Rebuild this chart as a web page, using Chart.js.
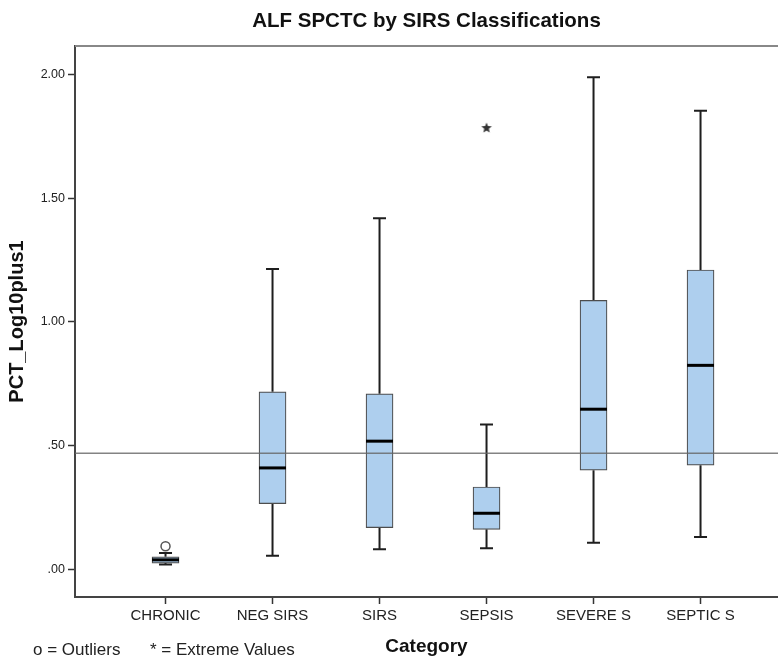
<!DOCTYPE html>
<html>
<head>
<meta charset="utf-8">
<script src="https://cdn.jsdelivr.net/npm/chart.js@4.4.1/dist/chart.umd.min.js"></script>
<style>
  body { margin: 0; background: #fff; }
</style>
</head>
<body>
<canvas id="myChart" width="778" height="658"></canvas>
<script>
const categories = ["CHRONIC", "NEG SIRS", "SIRS", "SEPSIS", "SEVERE S", "SEPTIC S"];
const whiskerLow = [0.021, 0.056, 0.083, 0.087, 0.109, 0.132];
const q1 = [0.027, 0.267, 0.170, 0.163, 0.402, 0.422];
const median = [0.040, 0.411, 0.519, 0.228, 0.648, 0.825];
const q3 = [0.052, 0.718, 0.710, 0.334, 1.087, 1.210];
const whiskerHigh = [0.068, 1.214, 1.419, 0.586, 1.988, 1.853];
const outliers = [[0.095], [], [], [], [], []];
const extremes = [[], [], [], [1.783], [], []];
const yTicks = [0, 0.5, 1, 1.5, 2];
const refLine = 0.47;

const font = "'Liberation Sans', Arial, sans-serif";

// small 5-point star used for extreme values
const starImg = document.createElement("canvas");
starImg.width = 12;
starImg.height = 12;
const sctx = starImg.getContext("2d");
sctx.beginPath();
for (let k = 0; k < 10; k++) {
  const r = k % 2 === 0 ? 5.5 : 2.4;
  const a = -Math.PI / 2 + k * Math.PI / 5;
  sctx.lineTo(6 + r * Math.cos(a), 6 + r * Math.sin(a));
}
sctx.closePath();
sctx.fillStyle = "#333";
sctx.fill();

const boxParts = {
  id: "boxParts",
  beforeDatasetsDraw(chart) {
    const { ctx, scales: { x, y } } = chart;
    ctx.save();
    ctx.strokeStyle = "#1e1e1e";
    ctx.lineWidth = 2;
    categories.forEach((c, i) => {
      const px = x.getPixelForValue(i);
      ctx.beginPath();
      ctx.moveTo(px, y.getPixelForValue(q3[i]));
      ctx.lineTo(px, y.getPixelForValue(whiskerHigh[i]));
      ctx.moveTo(px, y.getPixelForValue(q1[i]));
      ctx.lineTo(px, y.getPixelForValue(whiskerLow[i]));
      [whiskerHigh[i], whiskerLow[i]].forEach((v) => {
        const py = y.getPixelForValue(v);
        ctx.moveTo(px - 6.5, py);
        ctx.lineTo(px + 6.5, py);
      });
      ctx.stroke();
    });
    ctx.restore();
  },
  afterDatasetsDraw(chart) {
    const { ctx, chartArea: a, scales: { x, y } } = chart;
    ctx.save();
    // medians
    ctx.strokeStyle = "#000";
    ctx.lineWidth = 3;
    categories.forEach((c, i) => {
      const px = x.getPixelForValue(i);
      const py = y.getPixelForValue(median[i]);
      ctx.beginPath();
      ctx.moveTo(px - 13.5, py);
      ctx.lineTo(px + 13.5, py);
      ctx.stroke();
    });
    // reference line
    const ry = y.getPixelForValue(refLine);
    ctx.strokeStyle = "rgba(100,100,100,0.8)";
    ctx.lineWidth = 1.5;
    ctx.beginPath();
    ctx.moveTo(a.left, ry);
    ctx.lineTo(a.right, ry);
    ctx.stroke();
    // top frame
    ctx.strokeStyle = "#888";
    ctx.lineWidth = 2;
    ctx.beginPath();
    ctx.moveTo(a.left, a.top);
    ctx.lineTo(a.right, a.top);
    ctx.stroke();
    ctx.restore();
  },
  afterDraw(chart) {
    const { ctx } = chart;
    ctx.save();
    ctx.fillStyle = "#222";
    ctx.font = "17px " + font;
    ctx.textBaseline = "middle";
    ctx.fillText("o = Outliers", 33, 650);
    ctx.fillText("* = Extreme Values", 150, 650);
    ctx.restore();
  }
};

const myChart = new Chart(document.getElementById("myChart"), {
  type: "bar",
  plugins: [boxParts],
  data: {
    datasets: [
      {
        type: "bar",
        data: categories.map((c, i) => ({ x: i, y: [q1[i], q3[i]] })),
        backgroundColor: "#aecfee",
        borderColor: "#4d4d4d",
        borderWidth: 1.2,
        borderSkipped: false,
        barThickness: 27,
      },
      {
        type: "scatter",
        data: outliers.flatMap((list, i) => list.map((v) => ({ x: i, y: v }))),
        pointStyle: "circle",
        radius: 4.5,
        backgroundColor: "#fff",
        borderColor: "#555",
        borderWidth: 1.5,
      },
      {
        type: "scatter",
        data: extremes.flatMap((list, i) => list.map((v) => ({ x: i, y: v }))),
        pointStyle: starImg,
      },
    ],
  },
  options: {
    responsive: false,
    animation: false,
    events: [],
    layout: { padding: 0, autoPadding: false },
    plugins: {
      legend: { display: false },
      tooltip: { enabled: false },
      title: {
        display: true,
        fullSize: false,
        text: "ALF SPCTC by SIRS Classifications",
        color: "#111",
        font: { family: font, size: 20.5, weight: "bold" },
        padding: { top: 9, bottom: 12.4 },
      },
    },
    scales: {
      x: {
        type: "linear",
        offset: false,
        min: -0.846,
        max: 5.724,
        afterBuildTicks: (s) => { s.ticks = categories.map((c, i) => ({ value: i })); },
        afterFit: (s) => { s.height = 61; s.paddingLeft = 0; s.paddingRight = 0; },
        ticks: {
          callback: (v) => categories[v],
          autoSkip: false,
          maxRotation: 0,
          padding: 3,
          color: "#222",
          font: { family: font, size: 15 },
        },
        grid: { offset: false, drawOnChartArea: false, tickLength: 7, tickColor: "#333", tickWidth: 1.5 },
        border: { color: "#444", width: 2 },
        title: {
          display: true,
          text: "Category",
          color: "#111",
          font: { family: font, size: 19, weight: "bold" },
          padding: { top: 0, bottom: 0 },
        },
      },
      y: {
        type: "linear",
        min: -0.11,
        max: 2.114,
        afterBuildTicks: (s) => { s.ticks = yTicks.map((v) => ({ value: v })); },
        afterFit: (s) => { s.width = 75; },
        ticks: {
          callback: (v) => v.toFixed(2).replace(/^0/, ""),
          padding: 3,
          color: "#222",
          font: { family: font, size: 12.5 },
        },
        grid: { drawOnChartArea: false, tickLength: 7, tickColor: "#333", tickWidth: 1.5 },
        border: { color: "#444", width: 2 },
        title: {
          display: true,
          text: "PCT_Log10plus1",
          color: "#111",
          font: { family: font, size: 20, weight: "bold" },
          padding: { top: 5 },
        },
      },
    },
  },
});
</script>
</body>
</html>
